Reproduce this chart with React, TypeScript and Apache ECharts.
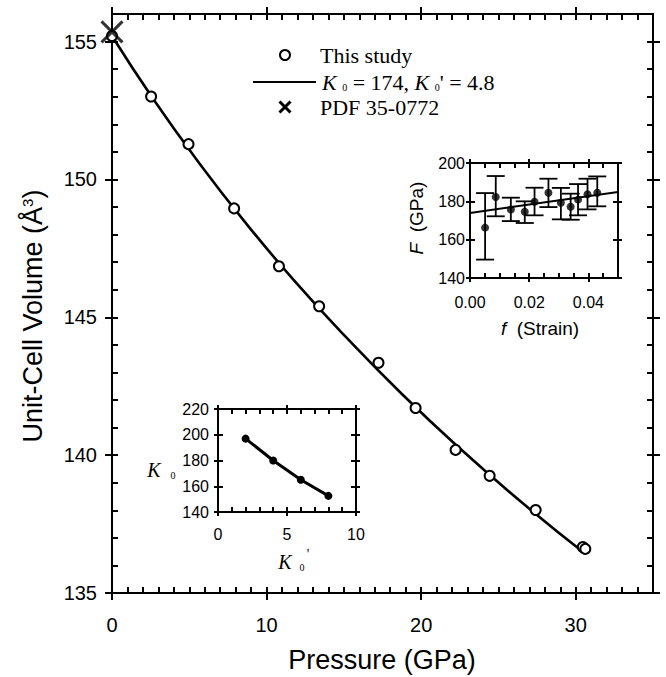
import { useEffect, useRef } from 'react';
import * as echarts from 'echarts';

// ---- main plot data ----
const pressure = [0, 2.53, 4.95, 7.9, 10.8, 13.4, 17.24, 19.64, 22.23, 24.43, 27.41, 30.46, 30.62];
const volume = [155.2, 153.01, 151.28, 148.95, 146.85, 145.4, 143.35, 141.71, 140.19, 139.25, 138.01, 136.67, 136.6];
const fitPressure = [0, 2.69, 5.55, 8.58, 11.79, 15.19, 18.77, 22.55, 26.52, 30.6];
const fitVolume = [155.2, 152.9, 150.66, 148.47, 146.33, 144.25, 142.21, 140.22, 138.28, 136.43];
const pdfPressure = [0];
const pdfVolume = [155.35];
const mainXTicks = [0, 10, 20, 30];
const mainYTicks = [135, 140, 145, 150, 155];
const mainXMinor = [0, 1, 2, 3, 4, 5, 6, 7, 8, 9, 10, 11, 12, 13, 14, 15, 16, 17, 18, 19, 20, 21, 22, 23, 24, 25, 26, 27, 28, 29, 30, 31, 32, 33, 34];
const mainYMinor = [135, 136, 137, 138, 139, 140, 141, 142, 143, 144, 145, 146, 147, 148, 149, 150, 151, 152, 153, 154, 155];

// ---- inset F-f data ----
const strain = [0.0051, 0.0087, 0.0138, 0.0185, 0.0218, 0.0265, 0.0307, 0.034, 0.0365, 0.0397, 0.043];
const normStress = [166.3, 182.3, 175.7, 174.6, 179.8, 184.5, 179.3, 177.2, 180.9, 183.7, 184.5];
const stressLo = [149.6, 172.2, 169.7, 168.7, 172.7, 177.0, 170.6, 170.4, 172.7, 175.8, 177.4];
const stressHi = [184.3, 193.2, 181.9, 180.0, 187.1, 191.8, 187.0, 184.0, 189.0, 191.8, 193.0];
const strainFitX = [0, 0.05];
const strainFitY = [173.9, 184.9];
const insetFXTicks = [0, 0.02, 0.04];
const insetFYTicks = [140, 160, 180, 200];
const insetFXMinor = [0.005, 0.01, 0.015, 0.02, 0.025, 0.03, 0.035, 0.04, 0.045];
const insetFYMinor = [160, 180];

// ---- inset K0-K0' data ----
const k0Prime = [2, 4, 6, 8];
const k0 = [197, 180, 165, 152.5];
const insetKXTicks = [0, 5, 10];
const insetKYTicks = [140, 160, 180, 200, 220];
const insetKXMinor = [1, 2, 3, 4, 5, 6, 7, 8, 9];
const insetKYMinor = [160, 180, 200];

const SANS = 'Liberation Sans';
const SERIF = 'Liberation Serif';

type Frame = {
  rect: { left: number; top: number; width: number; height: number };
  x: [number, number];
  y: [number, number];
  xMajor: number[];
  yMajor: number[];
  xMinor: number[];
  yMinor: number[];
  fontSize: number;
  xMargin: number;
  yMargin: number;
  xFmt: (v: number) => string;
  outLen: number;
  inLen: number;
  lw: number;
};

function buildFrame(f: Frame, grids: any[], xAxes: any[], yAxes: any[], series: any[]) {
  const gA = grids.length;
  grids.push({ ...f.rect });
  grids.push({ ...f.rect });
  const gB = gA + 1;
  const lineOn = { show: true, onZero: false, lineStyle: { color: '#000', width: f.lw } };
  const tickStyle = { color: '#000', width: f.lw };
  const lbl = (show: boolean, vals: number[], margin: number, fmt: (v: number) => string) =>
    show
      ? { show: true, customValues: vals, margin, color: '#000', fontSize: f.fontSize, fontFamily: SANS, formatter: (v: number) => fmt(v) }
      : { show: false };
  const ax = xAxes.length;
  for (const pos of ['bottom', 'top']) {
    xAxes.push({
      type: 'value', gridIndex: gA, position: pos, min: f.x[0], max: f.x[1],
      axisLine: lineOn, splitLine: { show: false },
      axisTick: { show: true, inside: false, length: f.outLen, customValues: f.xMajor, lineStyle: tickStyle },
      axisLabel: lbl(pos === 'bottom', f.xMajor, f.xMargin, f.xFmt),
    });
  }
  const ay = yAxes.length;
  for (const pos of ['left', 'right']) {
    yAxes.push({
      type: 'value', gridIndex: gA, position: pos, min: f.y[0], max: f.y[1],
      axisLine: lineOn, splitLine: { show: false },
      axisTick: { show: true, inside: false, length: f.outLen, customValues: f.yMajor, lineStyle: tickStyle },
      axisLabel: lbl(pos === 'left', f.yMajor, f.yMargin, (v) => String(v)),
    });
  }
  const bx = xAxes.length;
  for (const pos of ['bottom', 'top']) {
    xAxes.push({
      type: 'value', gridIndex: gB, position: pos, min: f.x[0], max: f.x[1],
      axisLine: lineOn, splitLine: { show: false },
      axisLabel: { show: false },
      axisTick: { show: true, inside: true, length: f.inLen, customValues: f.xMinor, lineStyle: tickStyle },
    });
  }
  const by = yAxes.length;
  for (const pos of ['left', 'right']) {
    yAxes.push({
      type: 'value', gridIndex: gB, position: pos, min: f.y[0], max: f.y[1],
      axisLine: lineOn, splitLine: { show: false },
      axisLabel: { show: false },
      axisTick: { show: true, inside: true, length: f.inLen, customValues: f.yMinor, lineStyle: tickStyle },
    });
  }
  // anchor series so that every axis of both grids is laid out
  series.push({ type: 'line', xAxisIndex: ax + 1, yAxisIndex: ay + 1, data: [], silent: true, showSymbol: false });
  series.push({ type: 'line', xAxisIndex: bx, yAxisIndex: by, data: [], silent: true, showSymbol: false });
  series.push({ type: 'line', xAxisIndex: bx + 1, yAxisIndex: by + 1, data: [], silent: true, showSymbol: false });
}

export default function App() {
  const ref = useRef<HTMLDivElement>(null);
  useEffect(() => {
    if (!ref.current) return;
    const chart = echarts.init(ref.current, undefined, { renderer: 'svg' });
    const grids: any[] = [];
    const xAxes: any[] = [];
    const yAxes: any[] = [];
    const anchors: any[] = [];
    buildFrame({
      rect: { left: 112, top: 14, width: 541, height: 579 },
      x: [0, 35], y: [135, 156], xMajor: mainXTicks, yMajor: mainYTicks,
      xMinor: mainXMinor, yMinor: mainYMinor, fontSize: 20, xMargin: 22, yMargin: 15,
      xFmt: (v) => String(v), outLen: 7, inLen: 6, lw: 2,
    }, grids, xAxes, yAxes, anchors);
    buildFrame({
      rect: { left: 470, top: 163, width: 148, height: 115 },
      x: [0, 0.05], y: [140, 200], xMajor: insetFXTicks, yMajor: insetFYTicks,
      xMinor: insetFXMinor, yMinor: insetFYMinor, fontSize: 16, xMargin: 16, yMargin: 5,
      xFmt: (v) => v.toFixed(2), outLen: 4, inLen: 5, lw: 2,
    }, grids, xAxes, yAxes, anchors);
    buildFrame({
      rect: { left: 218, top: 409, width: 138, height: 103 },
      x: [0, 10], y: [140, 220], xMajor: insetKXTicks, yMajor: insetKYTicks,
      xMinor: insetKXMinor, yMinor: insetKYMinor, fontSize: 16, xMargin: 14, yMargin: 9,
      xFmt: (v) => String(v), outLen: 4, inLen: 5, lw: 2,
    }, grids, xAxes, yAxes, anchors);

    const option: any = {
      animation: false,
      backgroundColor: '#fff',
      grid: grids,
      xAxis: xAxes,
      yAxis: yAxes,
      series: [
        ...anchors,
        {
          type: 'line', xAxisIndex: 0, yAxisIndex: 0, smooth: true, showSymbol: false, symbol: 'none',
          data: fitPressure.map((p, i) => [p, fitVolume[i]]),
          lineStyle: { color: '#000', width: 2.6 }, z: 3,
        },
        {
          type: 'scatter', xAxisIndex: 0, yAxisIndex: 0, clip: false, symbol: 'circle', symbolSize: 10,
          data: pressure.map((p, i) => [p, volume[i]]),
          itemStyle: { color: '#fff', borderColor: '#000', borderWidth: 2, opacity: 1 }, z: 4,
        },
        {
          type: 'scatter', xAxisIndex: 0, yAxisIndex: 0, clip: false,
          symbol: 'path://M0,0L20,20M20,0L0,20', symbolSize: 21,
          data: pdfPressure.map((p, i) => [p, pdfVolume[i]]),
          itemStyle: { color: 'none', borderColor: '#000', borderWidth: 3 }, z: 5,
        },
        {
          type: 'custom', xAxisIndex: 4, yAxisIndex: 4, clip: false,
          data: strain.map((s, i) => [s, stressLo[i], stressHi[i]]),
          encode: { x: 0, y: [1, 2] },
          renderItem: (_p: any, api: any) => {
            const x = api.value(0);
            const lo = api.coord([x, api.value(1)]);
            const hi = api.coord([x, api.value(2)]);
            const hw = 9;
            const st = { stroke: '#000', lineWidth: 1.8 };
            return {
              type: 'group',
              children: [
                { type: 'line', shape: { x1: lo[0], y1: lo[1], x2: hi[0], y2: hi[1] }, style: st },
                { type: 'line', shape: { x1: lo[0] - hw, y1: lo[1], x2: lo[0] + hw, y2: lo[1] }, style: st },
                { type: 'line', shape: { x1: hi[0] - hw, y1: hi[1], x2: hi[0] + hw, y2: hi[1] }, style: st },
              ],
            };
          },
          z: 3,
        },
        {
          type: 'line', xAxisIndex: 4, yAxisIndex: 4, showSymbol: false, symbol: 'none',
          data: strainFitX.map((s, i) => [s, strainFitY[i]]),
          lineStyle: { color: '#000', width: 2 }, z: 3,
        },
        {
          type: 'scatter', xAxisIndex: 4, yAxisIndex: 4, clip: false, symbol: 'circle', symbolSize: 8,
          data: strain.map((s, i) => [s, normStress[i]]),
          itemStyle: { color: '#000' }, z: 4,
        },
        {
          type: 'line', xAxisIndex: 8, yAxisIndex: 8, symbol: 'circle', symbolSize: 8, showSymbol: true,
          data: k0Prime.map((k, i) => [k, k0[i]]),
          lineStyle: { color: '#000', width: 3 }, itemStyle: { color: '#000' }, z: 4,
        },
      ],
      graphic: [
        {
          type: 'text', x: 382, y: 660,
          style: { text: 'Pressure (GPa)', font: `27px "${SANS}"`, fill: '#000', align: 'center', verticalAlign: 'middle' },
        },
        {
          type: 'text', x: 33, y: 316, rotation: Math.PI / 2,
          style: {
            text: 'Unit-Cell Volume (Å{sup|3})', font: `27px "${SANS}"`, fill: '#000', align: 'center', verticalAlign: 'middle',
            rich: { sup: { fontSize: 15, fontFamily: SANS, padding: [0, 0, 12, 0] } },
          },
        },
        { type: 'circle', shape: { cx: 285, cy: 55, r: 5 }, style: { fill: '#fff', stroke: '#000', lineWidth: 2 } },
        { type: 'text', x: 320, y: 55, style: { text: 'This study', font: `22px "${SERIF}"`, fill: '#000', verticalAlign: 'middle' } },
        { type: 'line', shape: { x1: 253, y1: 82, x2: 316, y2: 82 }, style: { stroke: '#000', lineWidth: 2 } },
        {
          type: 'text', x: 322, y: 82,
          style: {
            text: '{i|K} {s|0} = 174, {i|K} {s|0}\' = 4.8', font: `22px "${SERIF}"`, fill: '#000', verticalAlign: 'middle',
            rich: {
              i: { fontStyle: 'italic', fontSize: 22, fontFamily: SERIF },
              s: { fontSize: 10, fontFamily: SERIF, padding: [10, 0, 0, 0] },
            },
          },
        },
        { type: 'line', shape: { x1: 279.5, y1: 101.5, x2: 290.5, y2: 112.5 }, style: { stroke: '#000', lineWidth: 3 } },
        { type: 'line', shape: { x1: 290.5, y1: 101.5, x2: 279.5, y2: 112.5 }, style: { stroke: '#000', lineWidth: 3 } },
        { type: 'text', x: 320, y: 107, style: { text: 'PDF 35-0772', font: `22px "${SERIF}"`, fill: '#000', verticalAlign: 'middle' } },
        {
          type: 'text', x: 416, y: 218, rotation: Math.PI / 2,
          style: {
            text: '{i|F}  (GPa)', font: `19px "${SANS}"`, fill: '#000', align: 'center', verticalAlign: 'middle',
            rich: { i: { fontStyle: 'italic', fontSize: 19, fontFamily: SANS } },
          },
        },
        {
          type: 'text', x: 540, y: 328,
          style: {
            text: '{i|f}  (Strain)', font: `19px "${SANS}"`, fill: '#000', align: 'center', verticalAlign: 'middle',
            rich: { i: { fontStyle: 'italic', fontSize: 19, fontFamily: SANS } },
          },
        },
        { type: 'text', x: 154, y: 470, style: { text: 'K', font: `italic 20px "${SERIF}"`, fill: '#000', align: 'center', verticalAlign: 'middle' } },
        { type: 'text', x: 173, y: 475, style: { text: '0', font: `10px "${SERIF}"`, fill: '#000', align: 'center', verticalAlign: 'middle' } },
        { type: 'text', x: 285, y: 562, style: { text: 'K', font: `italic 20px "${SERIF}"`, fill: '#000', align: 'center', verticalAlign: 'middle' } },
        { type: 'text', x: 302, y: 567, style: { text: '0', font: `10px "${SERIF}"`, fill: '#000', align: 'center', verticalAlign: 'middle' } },
        { type: 'text', x: 308, y: 554, style: { text: "'", font: `14px "${SERIF}"`, fill: '#000', align: 'center', verticalAlign: 'middle' } },
      ],
    };
    chart.setOption(option);
    return () => chart.dispose();
  }, []);
  return <div ref={ref} style={{ position: 'absolute', left: 0, top: 0, width: 666, height: 677, background: '#fff' }} />;
}
